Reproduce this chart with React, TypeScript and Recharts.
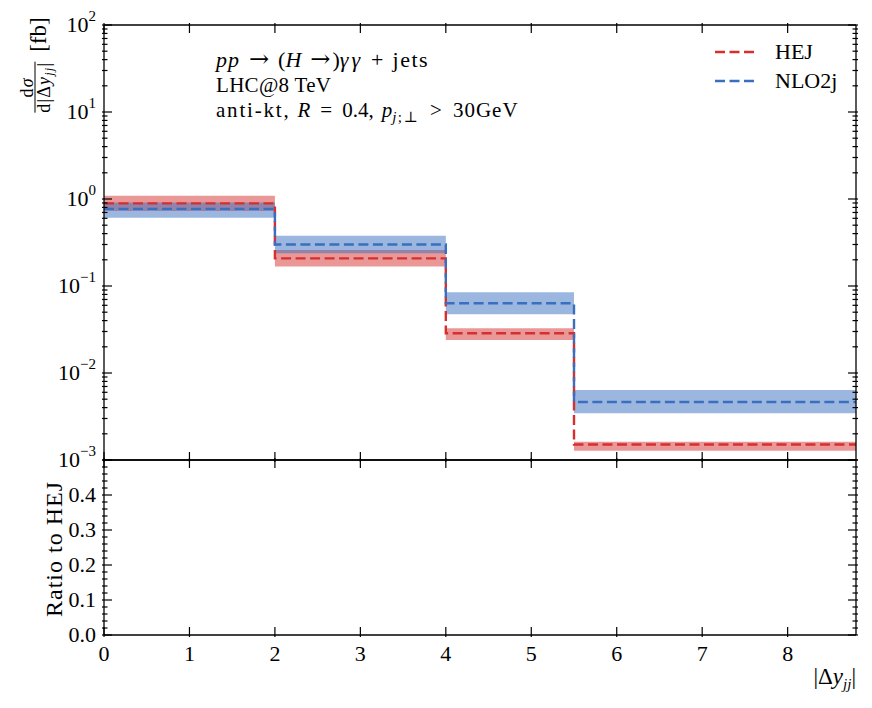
import React from "react";
import { ComposedChart, Line, Area, XAxis, YAxis } from "recharts";

// bin edges of |Δy_jj|; the last bin runs past the visible range
const binEdges = [0, 2, 4, 5.5, 9];

const hejValues = [0.89, 0.208, 0.0286, 0.00151];
const hejLow = [0.73, 0.167, 0.0239, 0.00128];
const hejHigh = [1.09, 0.26, 0.0327, 0.00162];

const nloValues = [0.77, 0.3, 0.0633, 0.00464];
const nloLow = [0.61, 0.238, 0.0473, 0.00344];
const nloHigh = [0.91, 0.379, 0.0847, 0.00638];

const xTicks = [0, 1, 2, 3, 4, 5, 6, 7, 8];
const decades = [-3, -2, -1, 0, 1, 2];
const ratioMajor = [0, 0.1, 0.2, 0.3, 0.4, 0.5];

const RED = "#d62f2f";
const BLUE = "#3a6fc0";
const FONT = "'Liberation Serif', 'DejaVu Serif', serif";
const ARROW_FONT = "'DejaVu Serif', serif";

const logTicks: number[] = [];
decades.forEach((d) => {
  const base = Math.pow(10, d);
  if (d === 2) {
    logTicks.push(base);
    return;
  }
  for (let k = 1; k <= 9; k++) logTicks.push(k * base);
});

const ratioTicks: number[] = [];
for (let i = 0; i <= 25; i++) ratioTicks.push(Math.round(i * 2) / 100);

// one row per bin edge, last bin value repeated for the step end
const rows = binEdges.map((x, i) => {
  const j = Math.min(i, hejValues.length - 1);
  return {
    x,
    hej: hejValues[j],
    nlo: nloValues[j],
    hejBand: [hejLow[j], hejHigh[j]],
    nloBand: [nloLow[j], nloHigh[j]],
    ratioHej: 1,
    ratioNlo: nloValues[j] / hejValues[j],
  };
});

const AXIS = { stroke: "#000", strokeWidth: 1.3 };
const TICK_FS = 22;

function LogTick(props: any) {
  const { x, y, payload, side } = props;
  const v = payload.value;
  const e = Math.round(Math.log10(v));
  const major = Math.abs(v / Math.pow(10, e) - 1) < 1e-6;
  const len = major ? 10 : 5.5;
  const dir = side === "left" ? 1 : -1;
  return (
    <g>
      <line x1={x} x2={x + dir * len} y1={y} y2={y} stroke="#000" strokeWidth={1.2} />
      {side === "left" && major && (
        <text x={x - 6} y={y + 7} textAnchor="end" fontSize={TICK_FS} fontFamily={FONT} fill="#000">
          10
          <tspan dy={-11} fontSize={15}>
            {e < 0 ? "\u2212" + -e : String(e)}
          </tspan>
        </text>
      )}
    </g>
  );
}

function RatioTick(props: any) {
  const { x, y, payload, side } = props;
  const v = payload.value;
  const major = ratioMajor.some((m) => Math.abs(m - v) < 1e-9);
  const len = major ? 10 : 5.5;
  const dir = side === "left" ? 1 : -1;
  return (
    <g>
      <line x1={x} x2={x + dir * len} y1={y} y2={y} stroke="#000" strokeWidth={1.2} />
      {side === "left" && major && v < 0.45 && (
        <text x={x - 6} y={y + 7} textAnchor="end" fontSize={TICK_FS} fontFamily={FONT} fill="#000">
          {v.toFixed(1)}
        </text>
      )}
    </g>
  );
}

function XTick(props: any) {
  const { x, y, payload, side, labels } = props;
  const dir = side === "bottom" ? -1 : 1;
  return (
    <g>
      <line x1={x} x2={x} y1={y} y2={y + dir * 10} stroke="#000" strokeWidth={1.2} />
      {labels && (
        <text x={x} y={y + 24} textAnchor="middle" fontSize={TICK_FS} fontFamily={FONT} fill="#000">
          {payload.value}
        </text>
      )}
    </g>
  );
}

function DashSample({ color }: { color: string }) {
  return (
    <svg width={42} height={6} style={{ display: "block" }}>
      <line x1={1} x2={41} y1={3} y2={3} stroke={color} strokeWidth={2.4} strokeDasharray="10 4.5" />
    </svg>
  );
}

// math-mode spacing
const Sp = ({ w }: { w: number }) => <span style={{ display: "inline-block", width: w }} />;
const Arrow = () => <span style={{ fontFamily: ARROW_FONT, fontSize: 24, lineHeight: 0 }}>→</span>;

export default function App() {
  const abs: React.CSSProperties = { position: "absolute", left: 0, top: 0 };
  return (
    <div style={{ ...abs, width: 872, height: 708, background: "#fff", fontFamily: FONT, color: "#000" }}>
      <div style={abs}>
        <ComposedChart width={872} height={708} data={rows} margin={{ top: 24, right: 15, bottom: 247, left: 103 }}>
          <XAxis
            xAxisId="b"
            dataKey="x"
            type="number"
            domain={[0, 8.8]}
            allowDataOverflow
            ticks={xTicks}
            interval={0}
            height={1}
            tickSize={0}
            tickLine={false}
            axisLine={AXIS}
            tick={(p: any) => <XTick {...p} side="bottom" labels={false} />}
          />
          <XAxis
            xAxisId="t"
            orientation="top"
            dataKey="x"
            type="number"
            domain={[0, 8.8]}
            allowDataOverflow
            ticks={xTicks}
            interval={0}
            height={1}
            tickSize={0}
            tickLine={false}
            axisLine={AXIS}
            tick={(p: any) => <XTick {...p} side="top" labels={false} />}
          />
          <YAxis
            yAxisId="l"
            scale="log"
            type="number"
            domain={[1e-3, 1e2]}
            allowDataOverflow
            ticks={logTicks}
            interval={0}
            width={1}
            tickSize={0}
            tickLine={false}
            axisLine={AXIS}
            tick={(p: any) => <LogTick {...p} side="left" />}
          />
          <YAxis
            yAxisId="r"
            orientation="right"
            scale="log"
            type="number"
            domain={[1e-3, 1e2]}
            allowDataOverflow
            ticks={logTicks}
            interval={0}
            width={1}
            tickSize={0}
            tickLine={false}
            axisLine={AXIS}
            tick={(p: any) => <LogTick {...p} side="right" />}
          />
          <Area
            xAxisId="b"
            yAxisId="l"
            type="stepAfter"
            dataKey="hejBand"
            fill={RED}
            fillOpacity={0.5}
            stroke="none"
            isAnimationActive={false}
          />
          <Area
            xAxisId="b"
            yAxisId="l"
            type="stepAfter"
            dataKey="nloBand"
            fill={BLUE}
            fillOpacity={0.5}
            stroke="none"
            isAnimationActive={false}
          />
          <Line
            xAxisId="b"
            yAxisId="l"
            type="stepAfter"
            dataKey="hej"
            stroke={RED}
            strokeWidth={2.4}
            strokeDasharray="10 4.5"
            dot={false}
            isAnimationActive={false}
          />
          <Line
            xAxisId="b"
            yAxisId="l"
            type="stepAfter"
            dataKey="nlo"
            stroke={BLUE}
            strokeWidth={2.4}
            strokeDasharray="10 4.5"
            dot={false}
            isAnimationActive={false}
          />
        </ComposedChart>
      </div>

      <div style={abs}>
        <ComposedChart width={872} height={708} data={rows} margin={{ top: 459, right: 15, bottom: 72, left: 103 }}>
          <XAxis
            xAxisId="b"
            dataKey="x"
            type="number"
            domain={[0, 8.8]}
            allowDataOverflow
            ticks={xTicks}
            interval={0}
            height={1}
            tickSize={0}
            tickLine={false}
            axisLine={AXIS}
            tick={(p: any) => <XTick {...p} side="bottom" labels={true} />}
          />
          <XAxis
            xAxisId="t"
            orientation="top"
            dataKey="x"
            type="number"
            domain={[0, 8.8]}
            allowDataOverflow
            ticks={xTicks}
            interval={0}
            height={1}
            tickSize={0}
            tickLine={false}
            axisLine={AXIS}
            tick={(p: any) => <XTick {...p} side="top" labels={false} />}
          />
          <YAxis
            yAxisId="l"
            type="number"
            domain={[0, 0.5]}
            allowDataOverflow
            ticks={ratioTicks}
            interval={0}
            width={1}
            tickSize={0}
            tickLine={false}
            axisLine={AXIS}
            tick={(p: any) => <RatioTick {...p} side="left" />}
          />
          <YAxis
            yAxisId="r"
            orientation="right"
            type="number"
            domain={[0, 0.5]}
            allowDataOverflow
            ticks={ratioTicks}
            interval={0}
            width={1}
            tickSize={0}
            tickLine={false}
            axisLine={AXIS}
            tick={(p: any) => <RatioTick {...p} side="right" />}
          />
          {/* ratios sit above 0.5, so the panel shows them clipped away */}
          <Line
            xAxisId="b"
            yAxisId="l"
            type="stepAfter"
            dataKey="ratioHej"
            stroke={RED}
            strokeWidth={2.4}
            strokeDasharray="10 4.5"
            dot={false}
            isAnimationActive={false}
          />
          <Line
            xAxisId="b"
            yAxisId="l"
            type="stepAfter"
            dataKey="ratioNlo"
            stroke={BLUE}
            strokeWidth={2.4}
            strokeDasharray="10 4.5"
            dot={false}
            isAnimationActive={false}
          />
        </ComposedChart>
      </div>

      {/* process description */}
      <div style={{ position: "absolute", left: 216, top: 47, fontSize: 21, lineHeight: "25.5px", whiteSpace: "nowrap" }}>
        <div style={{ fontSize: 22 }}>
          <i style={{ letterSpacing: 1 }}>pp</i>
          <Sp w={9} />
          <Arrow />
          <Sp w={9} />(<i>H</i>
          <Sp w={9} />
          <Arrow />
          <Sp w={2} />)<i style={{ letterSpacing: 3 }}>γγ</i>
          <Sp w={8} />+<Sp w={9} />
          <span style={{ letterSpacing: 1.5 }}>jets</span>
        </div>
        <div style={{ letterSpacing: 0.3 }}>LHC@8 TeV</div>
        <div>
          <span style={{ letterSpacing: 1.8 }}>anti-kt,</span>
          <Sp w={7} />
          <i>R</i>
          <Sp w={10} />=<Sp w={10} />
          0.4,
          <Sp w={8} />
          <i>p</i>
          <span style={{ fontSize: 15, verticalAlign: "-5px", lineHeight: 0, letterSpacing: 1.5 }}>
            <i>j</i>;⊥
          </span>
          <Sp w={11} />&gt;<Sp w={11} />
          <span style={{ letterSpacing: 1 }}>30GeV</span>
        </div>
      </div>

      {/* legend */}
      <div style={{ position: "absolute", left: 714, top: 37, fontSize: 22, lineHeight: "29px" }}>
        {[
          { name: "HEJ", color: RED },
          { name: "NLO2j", color: BLUE },
        ].map((s) => (
          <div key={s.name} style={{ display: "flex", alignItems: "center" }}>
            <DashSample color={s.color} />
            <span style={{ marginLeft: 19 }}>{s.name}</span>
          </div>
        ))}
      </div>

      {/* top y label */}
      <div
        style={{
          position: "absolute",
          left: 38,
          top: 65,
          transform: "translate(-50%, -50%) rotate(-90deg)",
          display: "flex",
          alignItems: "center",
          whiteSpace: "nowrap",
        }}
      >
        <span
          style={{
            display: "inline-flex",
            flexDirection: "column",
            alignItems: "center",
            fontSize: 18,
            lineHeight: "15px",
            letterSpacing: 1.2,
          }}
        >
          <span>
            d<i>σ</i>
          </span>
          <span style={{ borderTop: "1px solid #000", paddingTop: 1 }}>
            d|Δ<i>y</i>
            <span style={{ fontSize: 12, verticalAlign: "-3px" }}>
              <i>jj</i>
            </span>
            |
          </span>
        </span>
        <span style={{ fontSize: 23, marginLeft: 10 }}>[fb]</span>
      </div>

      {/* ratio y label */}
      <div
        style={{
          position: "absolute",
          left: 54,
          top: 549,
          transform: "translate(-50%, -50%) rotate(-90deg)",
          fontSize: 24,
          letterSpacing: 1,
          whiteSpace: "nowrap",
        }}
      >
        Ratio to HEJ
      </div>

      {/* x label */}
      <div style={{ position: "absolute", right: 16, top: 663, fontSize: 23, lineHeight: "28px", whiteSpace: "nowrap" }}>
        |Δ<i>y</i>
        <span style={{ fontSize: 15, verticalAlign: "-5px", lineHeight: 0 }}>
          <i>jj</i>
        </span>
        |
      </div>
    </div>
  );
}
